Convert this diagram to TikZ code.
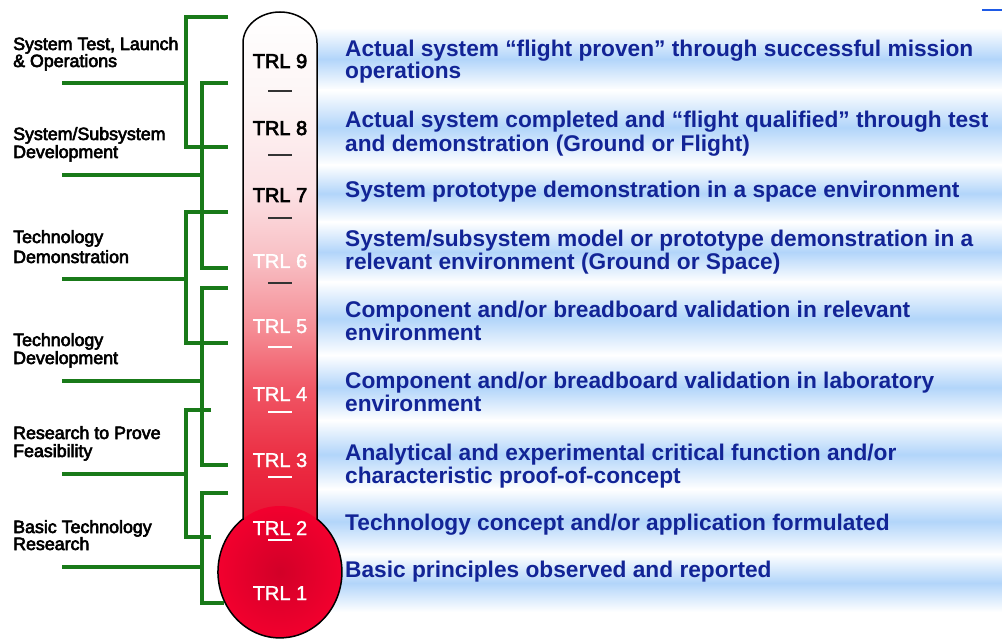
\documentclass[tikz,border=0pt]{standalone}
\usepackage{fontspec}
\setmainfont{Liberation Sans}
\newcommand\heavytext[2]{\special{pdf:literal direct #1 w 2 Tr}#2\special{pdf:literal direct 0 Tr}}
\definecolor{bandblue}{RGB}{178,213,250}
\definecolor{txtblue}{RGB}{18,36,150}
\definecolor{brgreen}{RGB}{25,122,25}
\definecolor{topblue}{RGB}{30,90,230}
\definecolor{tA}{RGB}{232,12,48}
\definecolor{tB}{RGB}{235,45,66}
\definecolor{tC}{RGB}{240,85,100}
\definecolor{tD}{RGB}{245,140,148}
\definecolor{tE}{RGB}{248,190,195}
\definecolor{tF}{RGB}{252,225,228}
\definecolor{tG}{RGB}{253,245,245}
\definecolor{tH}{RGB}{255,255,255}
\definecolor{bulbin}{RGB}{210,0,40}
\definecolor{bulbout}{RGB}{242,0,46}
\pgfdeclareverticalshading{tubeshade}{100bp}{color(0bp)=(tA); color(25bp)=(tA); color(32.6bp)=(tB); color(39.2bp)=(tC); color(44.9bp)=(tD); color(51.5bp)=(tE); color(58.1bp)=(tF); color(66.7bp)=(tG); color(75bp)=(tH); color(100bp)=(tH)}
\begin{document}
\begin{tikzpicture}[x=1pt,y=-1pt,
  bracket/.style={draw=brgreen,line width=4pt},
  lbl/.style={anchor=base west,inner sep=0pt,font=\fontsize{17.8}{19}\selectfont,text=black},
  desc/.style={anchor=base west,inner sep=0pt,font=\fontsize{22.7}{23}\selectfont\bfseries,text=txtblue},
  trldark/.style={anchor=base,inner sep=0pt,font=\fontsize{20}{22}\selectfont,text=black},
  trllight/.style={anchor=base,inner sep=0pt,font=\fontsize{20}{22}\selectfont,text=white},
  dashdark/.style={draw=black!80,line width=1.8pt},
  dashlight/.style={draw=white,line width=1.2pt}]
\useasboundingbox (0,0) rectangle (1002,639);
\fill[white] (0,0) rectangle (1002,639);
% background bands
\foreach \a/\b in {28/90,90/165,165/222,222/282,282/355,355/420,420/489,489/554,554/612}
  \shade[top color=white,bottom color=white,middle color=bandblue] (317,\a) rectangle (1002,\b);
% small blue mark top right
\coordinate (m1) at (982,10); \coordinate (m2) at (1002,10);
\draw[topblue,line width=2pt] (m1) -- (m2);
% thermometer
\shade[shading=tubeshade] (243,540) -- (243,43) arc[start angle=180,end angle=360,x radius=37,y radius=31] -- (317,540) -- cycle;
\shade[inner color=bulbin,outer color=bulbout] (280,572) ellipse[x radius=62,y radius=66];
\draw[line width=1.5pt,black] (243,519) -- (243,43) arc[start angle=180,end angle=360,x radius=37,y radius=31] -- (317,519) arc[start angle=-53.3,end angle=233.3,x radius=62,y radius=66] -- cycle;
% TRL labels
\node[trldark] (trl9) at (280,68) {\heavytext{0.7}{TRL 9}};
\node[trldark] (trl8) at (280,135) {\heavytext{0.7}{TRL 8}};
\node[trldark] (trl7) at (280,202) {\heavytext{0.7}{TRL 7}};
\node[trllight] (trl6) at (280,268) {\heavytext{0.3}{TRL 6}};
\node[trllight] (trl5) at (280,333) {\heavytext{0.3}{TRL 5}};
\node[trllight] (trl4) at (280,401) {\heavytext{0.3}{TRL 4}};
\node[trllight] (trl3) at (280,467) {\heavytext{0.3}{TRL 3}};
\node[trllight] (trl2) at (280,535) {\heavytext{0.3}{TRL 2}};
\node[trllight] (trl1) at (280,600) {\heavytext{0.3}{TRL 1}};
\foreach \y in {91,155,218,283} \draw[dashdark] (268,\y) -- (292,\y);
\foreach \y in {347,412,477,540} \draw[dashlight] (268,\y) -- (292,\y);
% green brackets
\coordinate (g1a) at (228,17);  \coordinate (g1b) at (228,147); \coordinate (g1s) at (62,83);
\draw[bracket] (g1a) -- (186,17) -- (186,147) -- (g1b);
\draw[bracket] (g1s) -- (186,83);
\coordinate (g2a) at (228,83);  \coordinate (g2b) at (228,268); \coordinate (g2s) at (62,175);
\draw[bracket] (g2a) -- (202,83) -- (202,268) -- (g2b);
\draw[bracket] (g2s) -- (202,175);
\coordinate (g3a) at (228,212); \coordinate (g3b) at (228,343); \coordinate (g3s) at (62,279);
\draw[bracket] (g3a) -- (186,212) -- (186,343) -- (g3b);
\draw[bracket] (g3s) -- (186,279);
\coordinate (g4a) at (228,288); \coordinate (g4b) at (228,465); \coordinate (g4s) at (62,381);
\draw[bracket] (g4a) -- (202,288) -- (202,465) -- (g4b);
\draw[bracket] (g4s) -- (202,381);
\coordinate (g5a) at (211,410); \coordinate (g5b) at (211,537); \coordinate (g5s) at (62,474);
\draw[bracket] (g5a) -- (186,410) -- (186,537) -- (g5b);
\draw[bracket] (g5s) -- (186,474);
\coordinate (g6a) at (228,493); \coordinate (g6b) at (224,603); \coordinate (g6s) at (62,567);
\draw[bracket] (g6a) -- (202,493) -- (202,603) -- (g6b);
\draw[bracket] (g6s) -- (202,567);
% left labels
\node[lbl] (l1a) at (13,50) {\heavytext{0.6}{System Test, Launch}};
\node[lbl] (l1b) at (13,67) {\heavytext{0.6}{\& Operations}};
\node[lbl] (l2a) at (13,140) {\heavytext{0.6}{System/Subsystem}};
\node[lbl] (l2b) at (13,158) {\heavytext{0.6}{Development}};
\node[lbl] (l3a) at (13,243) {\heavytext{0.6}{Technology}};
\node[lbl] (l3b) at (13,263) {\heavytext{0.6}{Demonstration}};
\node[lbl] (l4a) at (13,346) {\heavytext{0.6}{Technology}};
\node[lbl] (l4b) at (13,364) {\heavytext{0.6}{Development}};
\node[lbl] (l5a) at (13,439) {\heavytext{0.6}{Research to Prove}};
\node[lbl] (l5b) at (13,457) {\heavytext{0.6}{Feasibility}};
\node[lbl] (l6a) at (13,533) {\heavytext{0.6}{Basic Technology}};
\node[lbl] (l6b) at (13,550) {\heavytext{0.6}{Research}};
% descriptions
\node[desc] (d9a) at (345,57) {Actual system “flight proven” through successful mission};
\node[desc] (d9b) at (345,79) {operations};
\node[desc] (d8a) at (345,128) {Actual system completed and “flight qualified” through test};
\node[desc] (d8b) at (345,152) {and demonstration (Ground or Flight)};
\node[desc] (d7a) at (345,198) {System prototype demonstration in a space environment};
\node[desc] (d6a) at (345,247) {System/subsystem model or prototype demonstration in a};
\node[desc] (d6b) at (345,270) {relevant environment (Ground or Space)};
\node[desc] (d5a) at (345,318) {Component and/or breadboard validation in relevant};
\node[desc] (d5b) at (345,341) {environment};
\node[desc] (d4a) at (345,388) {Component and/or breadboard validation in laboratory};
\node[desc] (d4b) at (345,411) {environment};
\node[desc] (d3a) at (345,460) {Analytical and experimental critical function and/or};
\node[desc] (d3b) at (345,483) {characteristic proof-of-concept};
\node[desc] (d2a) at (345,530) {Technology concept and/or application formulated};
\node[desc] (d1a) at (345,577) {Basic principles observed and reported};
\end{tikzpicture}
\end{document}
